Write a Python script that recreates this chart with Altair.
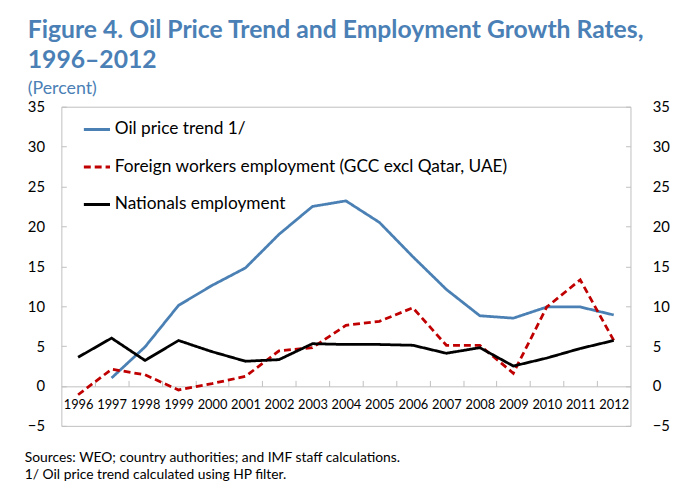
import altair as alt
import pandas as pd

years = list(range(1996, 2013))
oil_trend = [None, 1.0, 4.9, 10.1, 12.6, 14.8, 19.0, 22.5, 23.2, 20.5, 16.2, 12.1, 8.8, 8.5, 9.9, 9.9, 8.9]
foreign = [-1.1, 2.1, 1.4, -0.5, 0.3, 1.2, 4.4, 4.8, 7.6, 8.1, 9.8, 5.1, 5.1, 1.6, 9.9, 13.3, 5.7]
nationals = [3.6, 6.0, 3.2, 5.7, 4.3, 3.1, 3.3, 5.3, 5.2, 5.2, 5.1, 4.1, 4.8, 2.5, 3.5, 4.7, 5.7]
series_names = ["Oil price trend 1/", "Foreign workers employment (GCC excl Qatar, UAE)", "Nationals employment"]
series_colors = ["#4a80b4", "#c00000", "#000000"]
y_ticks = [-5, 0, 5, 10, 15, 20, 25, 30, 35]
footnotes = ["Sources: WEO; country authorities; and IMF staff calculations.",
             "1/ Oil price trend calculated using HP filter."]

rows = []
for name, vals in zip(series_names, [oil_trend, foreign, nationals]):
    for yr, v in zip(years, vals):
        if v is not None:
            rows.append({"year": yr, "value": v, "series": name})
df = pd.DataFrame(rows)

W, H = 576, 323
LABEL_FONT = "Lato"
GRAY = "#bfbfbf"
TITLE_BLUE = "#4a80b5"

xscale = alt.Scale(domain=[1995.5, 2012.5], nice=False, zero=False)
yscale = alt.Scale(domain=[-5, 35], nice=False, zero=False)

base = alt.Chart(df)

lines = base.mark_line(strokeWidth=2.8).encode(
    x=alt.X("year:Q", scale=xscale,
            axis=alt.Axis(orient="bottom", offset=-40, values=years, format="d",
                          domain=False, ticks=False, grid=False, labelPadding=12,
                          labelFont=LABEL_FONT, labelFontSize=13, labelColor="#000",
                          labelFlush=False, labelOverlap=False, title=None)),
    y=alt.Y("value:Q", scale=yscale,
            axis=alt.Axis(orient="left", values=y_ticks, domain=False, ticks=False,
                          grid=False, labelPadding=17, labelFont=LABEL_FONT,
                          labelFontSize=15, labelColor="#000", title=None)),
    color=alt.Color("series:N", scale=alt.Scale(domain=series_names, range=series_colors),
                    sort=series_names, title=None),
    strokeDash=alt.StrokeDash("series:N",
                              scale=alt.Scale(domain=series_names, range=[[1, 0], [7, 4], [1, 0]]),
                              sort=series_names, title=None),
)

axes2 = base.mark_point(opacity=0).encode(
    x=alt.X("year:Q", scale=xscale,
            axis=alt.Axis(orient="top", offset=-283, values=[y + 0.5 for y in years[:-1]],
                          labels=False, ticks=True, tickSize=6, tickColor=GRAY,
                          domain=True, domainColor=GRAY, grid=False, title=None)),
    y=alt.Y("value:Q", scale=yscale,
            axis=alt.Axis(orient="right", values=y_ticks, domain=False, ticks=False,
                          grid=False, labelPadding=22, labelFont=LABEL_FONT,
                          labelFontSize=15, labelColor="#000", title=None)),
)

ticks_left = base.mark_point(opacity=0).encode(
    y=alt.Y("value:Q", scale=yscale,
            axis=alt.Axis(orient="right", offset=-W, values=y_ticks, labels=False,
                          domain=False, ticks=True, tickSize=5, tickColor=GRAY,
                          grid=False, title=None)),
)
ticks_right = base.mark_point(opacity=0).encode(
    y=alt.Y("value:Q", scale=yscale,
            axis=alt.Axis(orient="left", offset=-W, values=y_ticks, labels=False,
                          domain=False, ticks=True, tickSize=5, tickColor=GRAY,
                          grid=False, title=None)),
)

foot1 = alt.Chart(pd.DataFrame({"t": [footnotes[0]]})).mark_text(
    align="left", baseline="alphabetic", font=LABEL_FONT, fontSize=14, color="#000"
).encode(x=alt.value(-37), y=alt.value(360), text="t:N")
foot2 = alt.Chart(pd.DataFrame({"t": [footnotes[1]]})).mark_text(
    align="left", baseline="alphabetic", font=LABEL_FONT, fontSize=14, color="#000"
).encode(x=alt.value(-37), y=alt.value(377), text="t:N")

chart = alt.layer(lines, axes2, ticks_left, ticks_right, foot1, foot2).resolve_scale(
    x="independent", y="independent"
).properties(
    width=W, height=H,
    autosize=alt.AutoSizeParams(type="none"),
    padding={"left": 54, "top": 97, "right": 41, "bottom": 63},
    title=alt.Title(
        text=["Figure 4. Oil Price Trend and Employment Growth Rates,", "1996–2012"],
        subtitle="(Percent)",
        anchor="start", frame="group", dx=-34, offset=2,
        font=LABEL_FONT, fontSize=25, fontWeight="bold", color=TITLE_BLUE,
        lineHeight=31,
        subtitleFont=LABEL_FONT, subtitleFontSize=18, subtitleColor=TITLE_BLUE,
        subtitlePadding=7,
    ),
).configure_view(
    stroke=GRAY, strokeWidth=1
).configure_legend(
    orient="none", legendX=21, legendY=8,
    symbolType="stroke", symbolSize=700, symbolStrokeWidth=3,
    labelFont=LABEL_FONT, labelFontSize=17.5, labelColor="#000",
    labelOffset=3, rowPadding=14, labelLimit=600,
)

chart.save("out.html", embed_options={"renderer": "svg", "actions": False})
